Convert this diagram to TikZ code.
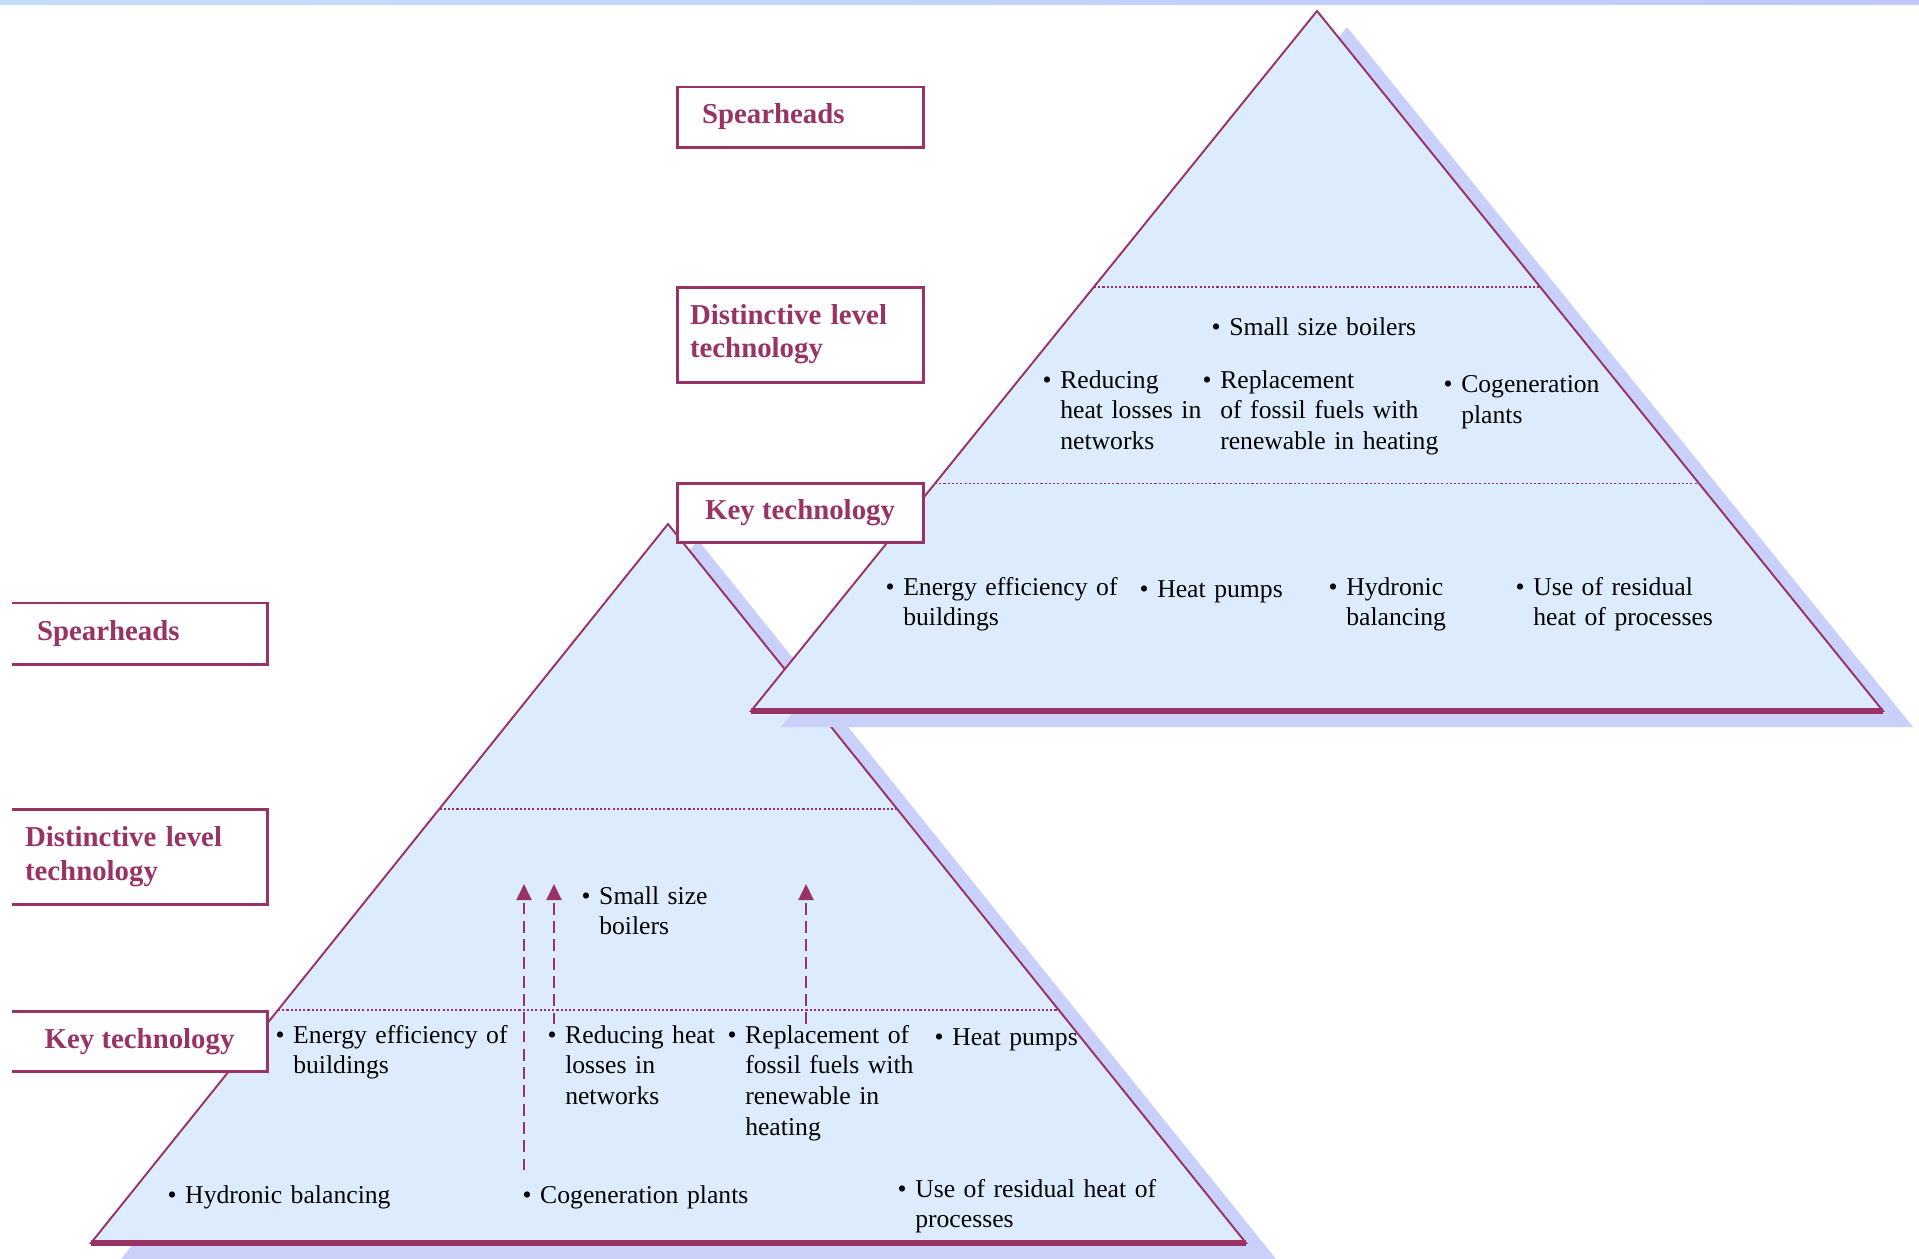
\documentclass[tikz,border=0pt]{standalone}
\usepackage{fontspec}
\setmainfont{Liberation Serif}
\usetikzlibrary{positioning, arrows.meta, calc}
\definecolor{tierRed}{HTML}{993366}
\definecolor{pyrBlue}{HTML}{DDECFD}
\definecolor{pyrShadow}{HTML}{C9D1FA}
\definecolor{bandLeft}{HTML}{C6DEFF}
\definecolor{bandRight}{HTML}{C0C8FF}
\tikzstyle{tierbox} =[fill=white, draw=tierRed, line width=0.85pt, text=tierRed, outer sep=0pt, anchor=north west, font=\fontsize{8.2}{9.4}\selectfont\bfseries]
\tikzstyle{openbox} =[tierbox, draw=none]
\tikzstyle{item} =[anchor=base west, inner sep=0pt, text width=3.4cm, align=left, font=\fontsize{7.3}{8.8}\selectfont]
\tikzstyle{pyrface} =[draw=tierRed, fill=pyrBlue, line width=0.55pt]
\tikzstyle{pyrshadow} =[fill=pyrShadow]
\tikzstyle{level} =[tierRed, line width=0.45pt, dash pattern=on 0.6pt off 0.6pt]
\tikzstyle{flow} =[tierRed, line width=0.6pt, dash pattern=on 3.4pt off 1.8pt, -{Triangle[width=4.3pt, length=4.6pt]}]
\newcommand{\bgap}{\hphantom{\textbullet\ }}

\begin{document}
\begin{tikzpicture}[x=0.01cm, y=-0.01cm]
\useasboundingbox (0,0) rectangle (1919,1258);
\shade[left color=bandLeft, right color=bandRight] (0,0) rectangle (1919,5);

% lower pyramid
\coordinate (lTop) at (668,524);
\coordinate (lLeft) at (91,1243);
\coordinate (lRight) at (1246,1243);
\fill[pyrshadow] ([shift={(30,16)}]lTop) -- ([shift={(30,16)}]lLeft) -- ([shift={(30,16)}]lRight) -- cycle;
\draw[pyrface] (lTop) -- (lLeft) -- (lRight) -- cycle;
\draw[tierRed, line width=1.6pt] (lLeft) -- (lRight);
\foreach \f in {0.396,0.676}
	\draw[level] ($(lTop)!\f!(lLeft)$) -- ($(lTop)!\f!(lRight)$);

\node (lSmall) [item] at (581,904) {\textbullet\ Small size\\\bgap boilers};
\node (lEnergy) [item] at (275,1043) {\textbullet\ Energy efficiency of\\\bgap buildings};
\node (lReduce) [item] at (547,1043) {\textbullet\ Reducing heat\\\bgap losses in\\\bgap networks};
\node (lReplace) [item] at (727,1043) {\textbullet\ Replacement of\\\bgap fossil fuels with\\\bgap renewable in\\\bgap heating};
\node (lPumps) [item] at (934,1045) {\textbullet\ Heat pumps};
\node (lHydro) [item] at (167,1203) {\textbullet\ Hydronic balancing};
\node (lCogen) [item] at (522,1203) {\textbullet\ Cogeneration plants};
\node (lResid) [item] at (897,1197) {\textbullet\ Use of residual heat of\\\bgap processes};

\coordinate (upA) at (524,884);
\coordinate (upB) at (554,884);
\coordinate (upC) at (806,884);
\draw[flow] ([yshift=0.14cm]lCogen.north west -| upA) -- (upA);
\draw[flow] (lReduce.north west -| upB) -- (upB);
\draw[flow] (lReplace.north west -| upC) -- (upC);

% upper pyramid
\coordinate (uTop) at (1317,11);
\coordinate (uLeft) at (751,711);
\coordinate (uRight) at (1883,711);
\fill[pyrshadow] ([shift={(30,16)}]uTop) -- ([shift={(30,16)}]uLeft) -- ([shift={(30,16)}]uRight) -- cycle;
\draw[pyrface] (uTop) -- (uLeft) -- (uRight) -- cycle;
\draw[tierRed, line width=1.6pt] (uLeft) -- (uRight);
\foreach \f in {0.394,0.675}
	\draw[level] ($(uTop)!\f!(uLeft)$) -- ($(uTop)!\f!(uRight)$);

\node (uSmall) [item] at (1211,336) {\textbullet\ Small size boilers};
\node (uReduce) [item] at (1042,388) {\textbullet\ Reducing\\\bgap heat losses in\\\bgap networks};
\node (uReplace) [item] at (1202,388) {\textbullet\ Replacement\\\bgap of fossil fuels with\\\bgap renewable in heating};
\node (uCogen) [item] at (1443,393) {\textbullet\ Cogeneration\\\bgap plants};
\node (uEnergy) [item] at (885,595) {\textbullet\ Energy efficiency of\\\bgap buildings};
\node (uPumps) [item] at (1139,597) {\textbullet\ Heat pumps};
\node (uHydro) [item] at (1328,595) {\textbullet\ Hydronic\\\bgap balancing};
\node (uResid) [item] at (1515,595) {\textbullet\ Use of residual\\\bgap heat of processes};

% level boxes
\node (uSpear) [tierbox, minimum width=2.46cm, minimum height=0.60cm, inner xsep=0.25cm, text width=1.96cm, align=left] at (677,87) {Spearheads};
\node (uDist) [tierbox, minimum height=0.95cm, inner xsep=0.13cm, text width=2.2cm, align=left, below=1.40cm of uSpear] {Distinctive level\\technology};
\node (uKey) [tierbox, minimum width=2.46cm, minimum height=0.59cm, align=center, below=1.01cm of uDist] {Key technology};

\node (lSpear) [openbox, minimum width=2.55cm, minimum height=0.61cm, inner xsep=0.25cm, text width=2.05cm, align=left] at (12,603) {Spearheads};
\node (lDist) [openbox, minimum height=0.95cm, inner xsep=0.13cm, text width=2.29cm, align=left, below=1.45cm of lSpear] {Distinctive level\\technology};
\node (lKey) [openbox, minimum width=2.55cm, minimum height=0.60cm, align=center, below=1.07cm of lDist] {Key technology};
\foreach \b in {lSpear, lDist, lKey}
	\draw[tierRed, line width=0.85pt] (\b.north west) -- (\b.north east) -- (\b.south east) -- (\b.south west);

\end{tikzpicture}
\end{document}
